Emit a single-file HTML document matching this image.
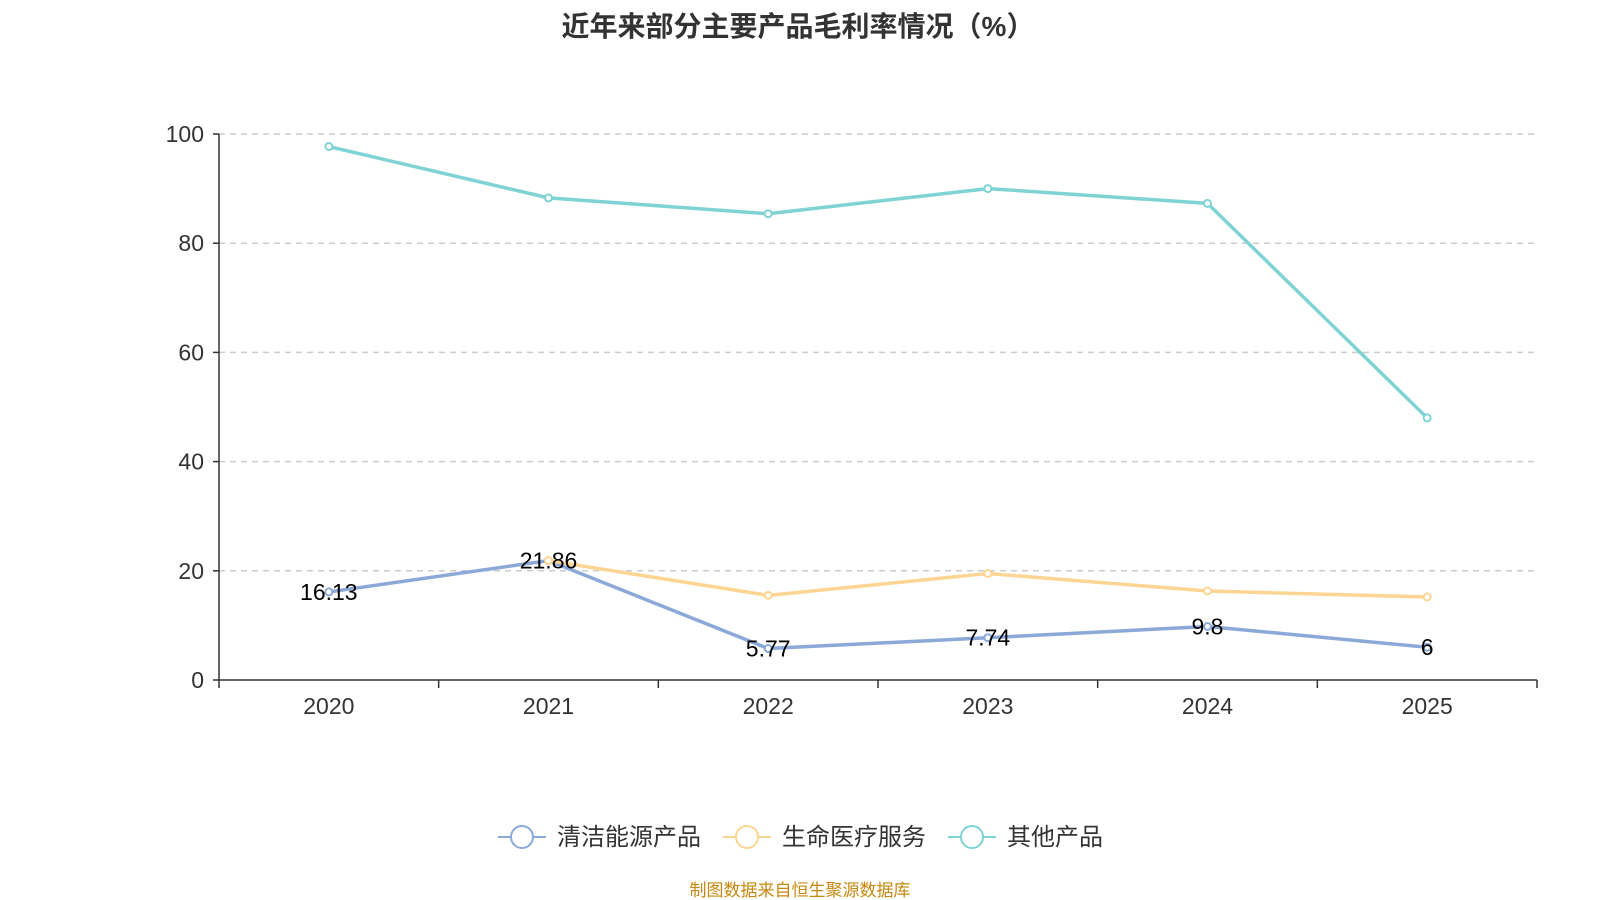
<!DOCTYPE html>
<html><head><meta charset="utf-8"><style>
body{margin:0;background:#fff;}
svg{display:block;font-family:"Liberation Sans","Noto Sans CJK SC",sans-serif;}
</style></head><body>
<svg id="c" width="1600" height="900">
<text x="798" y="36" text-anchor="middle" font-size="28" font-weight="bold" fill="#333">近年来部分主要产品毛利率情况（%）</text>
<g id="grid"></g><g id="axes"></g><g id="series"></g>
<g id="legend"></g>
<text x="800" y="896" text-anchor="middle" font-size="17" fill="#c8880f">制图数据来自恒生聚源数据库</text>
</svg>
<script>
const categories=['2020','2021','2022','2023','2024','2025'];
const yTicks=[0,20,40,60,80,100];
const seriesNames=['清洁能源产品','生命医疗服务','其他产品'];
const cleanEnergy=[16.13,21.86,5.77,7.74,9.8,6];
const lifeMedical=[null,21.86,15.5,19.5,16.3,15.2];
const otherProducts=[97.7,88.3,85.4,90.0,87.3,48.0];
const labels=['16.13','21.86','5.77','7.74','9.8','6'];
const colors=['#8aa9d8','#fdd592','#7fd3d4'];
const NS='http://www.w3.org/2000/svg';
const L=219,R=1537,T=134,B=680;
const bw=(R-L)/categories.length;
const x=i=>L+bw*(i+0.5);
const y=v=>B-(v/100)*(B-T);
function mk(tag,attrs,parent,text){const e=document.createElementNS(NS,tag);for(const k in attrs)e.setAttribute(k,attrs[k]);if(text!==undefined)e.textContent=text;parent.appendChild(e);return e;}
const grid=document.getElementById('grid'),axes=document.getElementById('axes'),ser=document.getElementById('series'),leg=document.getElementById('legend');
yTicks.forEach(t=>{
 if(t>0){const g=mk('line',{x1:L,x2:R,y1:y(t),y2:y(t),stroke:'#ccc','stroke-width':1.5,'stroke-dasharray':'6,5'},grid);
 
 }
 const tk=mk('line',{x1:L-6,x2:L,y1:y(t),y2:y(t),stroke:'#333','stroke-width':1.5},axes);
 
 
 const tl=mk('text',{x:L-15,y:y(t)+8,'text-anchor':'end','font-size':23,fill:'#333'},axes,String(t));
 
 
});
const ya=mk('line',{x1:L,x2:L,y1:T,y2:B,stroke:'#333','stroke-width':1.5},axes);


const xa=mk('line',{x1:L,x2:R,y1:B,y2:B,stroke:'#333','stroke-width':1.5},axes);


for(let i=0;i<=categories.length;i++){const t=mk('line',{x1:L+bw*i,x2:L+bw*i,y1:B,y2:B+8,stroke:'#333','stroke-width':1.5},axes);
 
 }
categories.forEach((c,i)=>{const t=mk('text',{x:x(i),y:B+34,'text-anchor':'middle','font-size':23,fill:'#333'},axes,c);
 
 });
[cleanEnergy,lifeMedical,otherProducts].forEach((d,s)=>{
 const pts=d.map((v,i)=>v==null?null:[x(i),y(v)]).filter(p=>p);
 const p=mk('polyline',{points:pts.map(q=>q.join(',')).join(' '),fill:'none',stroke:colors[s],'stroke-width':3.5},ser);
 
 
 pts.forEach(q=>{const c=mk('circle',{cx:q[0],cy:q[1],r:3.5,fill:'#fff',stroke:colors[s],'stroke-width':2},ser);
  
  });
});
cleanEnergy.forEach((v,i)=>{const t=mk('text',{x:x(i),y:y(v)+8,'text-anchor':'middle','font-size':23,fill:'#000'},ser,labels[i]);
 
 });
const lx=[498,723,948];
seriesNames.forEach((n,s)=>{const g=mk('g',{},leg);
 
 
 mk('line',{x1:lx[s],x2:lx[s]+48,y1:837,y2:837,stroke:colors[s],'stroke-width':2},g);
 mk('circle',{cx:lx[s]+24,cy:837,r:11,fill:'#fff',stroke:colors[s],'stroke-width':2},g);
 mk('text',{x:lx[s]+59,y:845,'font-size':24,fill:'#333'},g,n);
});
</script>
</body></html>
